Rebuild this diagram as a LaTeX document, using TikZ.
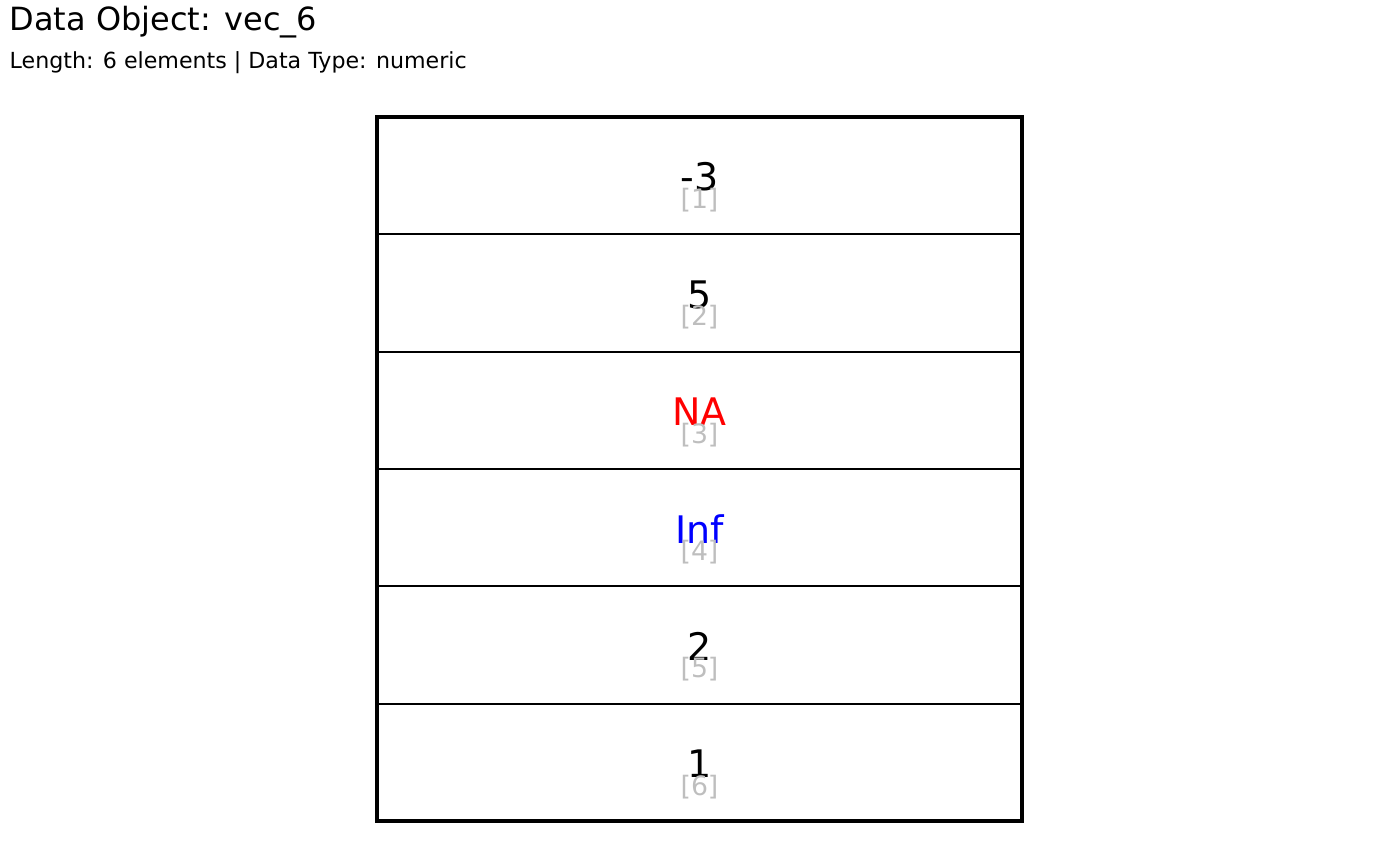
\documentclass[tikz,border=0pt]{standalone}
\usepackage{fontspec}
\setmainfont{DejaVu Sans}
\usetikzlibrary{positioning}
\definecolor{idxgray}{RGB}{190,190,190}

\begin{document}
\begin{tikzpicture}[x=1cm, y=1cm,
  cell/.style={draw, line width=0.55pt, minimum width=6.45cm, minimum height=1.1733cm, inner sep=0pt, outer sep=0pt},
  val/.style={font=\fontsize{10.8}{12}\selectfont},
  idx/.style={font=\fontsize{7.6}{9}\selectfont, text=idxgray}]
  \useasboundingbox (0,0) rectangle (14,-8.66);
  % header
  \node[anchor=base west, inner sep=0pt, font=\fontsize{9.1}{11}\selectfont] (title) at (0.09,-0.31) {Data Object: vec\_6};
  \node[anchor=base west, inner sep=0pt, font=\fontsize{6.3}{8}\selectfont] (sub) at (0.09,-0.685) {Length: 6 elements | Data Type: numeric};
  % cells
  \node[cell, anchor=north west] (c1) at (3.77,-1.17) {};
  \foreach \i [evaluate=\i as \j using int(\i-1)] in {2,...,6}
    \node[cell, below=0pt of c\j] (c\i) {};
  \draw[line width=1.15pt] (c1.north west) rectangle (c6.south east);
  % values and indices
  \foreach \v/\c [count=\i] in {-3/black, 5/black, NA/red, Inf/blue, 2/black, 1/black} {
    \node[val, text=\c] (v\i) at ([yshift=-0.015cm]c\i.center) {\v};
    \node[idx] (n\i) at ([yshift=-0.245cm]c\i.center) {[\i]};
  }
\end{tikzpicture}
\end{document}
